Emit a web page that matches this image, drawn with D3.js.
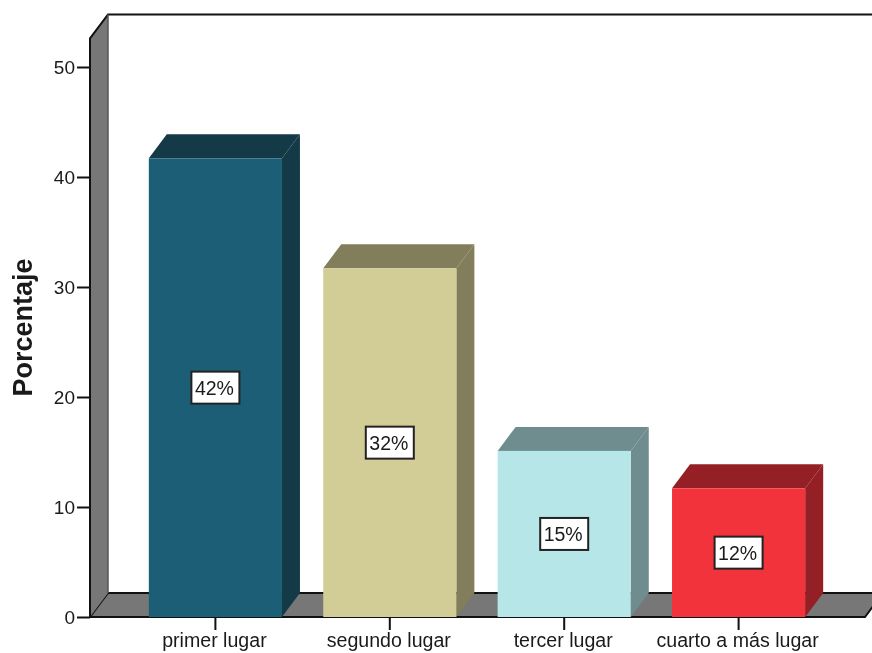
<!DOCTYPE html>
<html lang="es">
<head>
    <meta charset="UTF-8">
    <title>Porcentaje</title>
    <script src="https://d3js.org/d3.v7.min.js"></script>
    <style>
        html, body { margin: 0; padding: 0; background: #fff; }
        svg { display: block; filter: blur(0.45px); }
        text { font-family: "Liberation Sans", Arial, sans-serif; fill: #1a1a1a; }
        .axis text { font-size: 19px; }
        .axis.bottom text { font-size: 19.6px; }
        .axis line, .axis path { stroke: #111; stroke-width: 2px; }
    </style>
</head>
<body>
<svg id="chart" width="872" height="653"></svg>
<script>
    // datos
    const categories = ["primer lugar", "segundo lugar", "tercer lugar", "cuarto a más lugar"];
    const values = [41.7, 31.7, 15.1, 11.7];
    const labels = ["42%", "32%", "15%", "12%"];
    const frontColors = ["#1c5e75", "#d2cd96", "#b6e6e8", "#f2333b"];
    const sideColors = ["#143a47", "#827e5c", "#6f8d8e", "#941f24"];
    const yTicks = [0, 10, 20, 30, 40, 50];

    const dx = 18, dy = 24; // profundidad 3D
    const wallTop = 52.6;   // donde termina la pared en el eje

    const svg = d3.select("#chart");
    const x = d3.scaleBand().domain(categories).range([128.2, 825.8]).paddingInner(0.2366).paddingOuter(0.1183);
    const y = d3.scaleLinear().domain([0, 50]).range([617, 67]);
    const left = 90, right = 865;

    // suelo y pared
    const poly = pts => pts.map(p => p.join(",")).join(" ");
    svg.append("polygon")
        .attr("points", poly([[left, y(0)], [left + dx, y(0) - dy], [right + dx, y(0) - dy], [right, y(0)]]))
        .attr("fill", "#777").attr("stroke", "#111").attr("stroke-width", 2);
    svg.append("polygon")
        .attr("points", poly([[left, y(0)], [left + dx, y(0) - dy], [left + dx, y(wallTop) - dy], [left, y(wallTop)]]))
        .attr("fill", "#777");

    // contorno de la pared
    const outline = d3.path();
    outline.moveTo(left, y(0));
    outline.lineTo(left, y(wallTop));
    outline.lineTo(left + dx, y(wallTop) - dy);
    outline.lineTo(872, y(wallTop) - dy);
    svg.append("path").attr("d", outline.toString()).attr("fill", "none").attr("stroke", "#111").attr("stroke-width", 2);
    svg.append("line")
        .attr("x1", left + dx).attr("x2", left + dx)
        .attr("y1", y(wallTop) - dy).attr("y2", y(0) - dy)
        .attr("stroke", "#555").attr("stroke-width", 1.5);

    // barras
    const bars = svg.selectAll("g.bar").data(categories).join("g").attr("class", "bar");
    const w = x.bandwidth();
    bars.append("polygon")
        .attr("points", (d, i) => poly([
            [x(d), y(values[i])], [x(d) + dx, y(values[i]) - dy],
            [x(d) + w + dx, y(values[i]) - dy], [x(d) + w, y(values[i])]]))
        .attr("fill", (d, i) => sideColors[i]);
    bars.append("polygon")
        .attr("points", (d, i) => poly([
            [x(d) + w, y(values[i])], [x(d) + w + dx, y(values[i]) - dy],
            [x(d) + w + dx, y(0) - dy], [x(d) + w, y(0)]]))
        .attr("fill", (d, i) => sideColors[i]);
    bars.append("rect")
        .attr("x", d => x(d))
        .attr("y", (d, i) => y(values[i]))
        .attr("width", w)
        .attr("height", (d, i) => y(0) - y(values[i]))
        .attr("fill", (d, i) => frontColors[i]);

    // etiquetas de valor
    const boxW = 48, boxH = 32;
    bars.append("rect")
        .attr("x", d => x(d) + w / 2 - boxW / 2)
        .attr("y", (d, i) => y(values[i] / 2) - boxH / 2)
        .attr("width", boxW).attr("height", boxH)
        .attr("fill", "#fff").attr("stroke", "#222").attr("stroke-width", 2);
    bars.append("text")
        .attr("x", d => x(d) + w / 2 - 1)
        .attr("y", (d, i) => y(values[i] / 2) + 7.5)
        .attr("text-anchor", "middle")
        .attr("font-size", 19.5)
        .text((d, i) => labels[i]);

    // ejes
    svg.append("g").attr("class", "axis")
        .attr("transform", `translate(${left},0)`)
        .call(d3.axisLeft(y).tickValues(yTicks).tickSize(13).tickPadding(2).tickSizeOuter(0))
        .call(g => g.select(".domain").remove());
    svg.append("g").attr("class", "axis bottom")
        .attr("transform", `translate(0,${y(0)})`)
        .call(d3.axisBottom(x).tickSize(13).tickPadding(3.5).tickSizeOuter(0))
        .call(g => g.select(".domain").remove())
        .call(g => g.selectAll("text").attr("dx", -1));

    svg.append("text")
        .attr("transform", "translate(32,327.5) rotate(-90)")
        .attr("text-anchor", "middle")
        .attr("font-size", 27)
        .attr("font-weight", "bold")
        .text("Porcentaje");
</script>
</body>
</html>
